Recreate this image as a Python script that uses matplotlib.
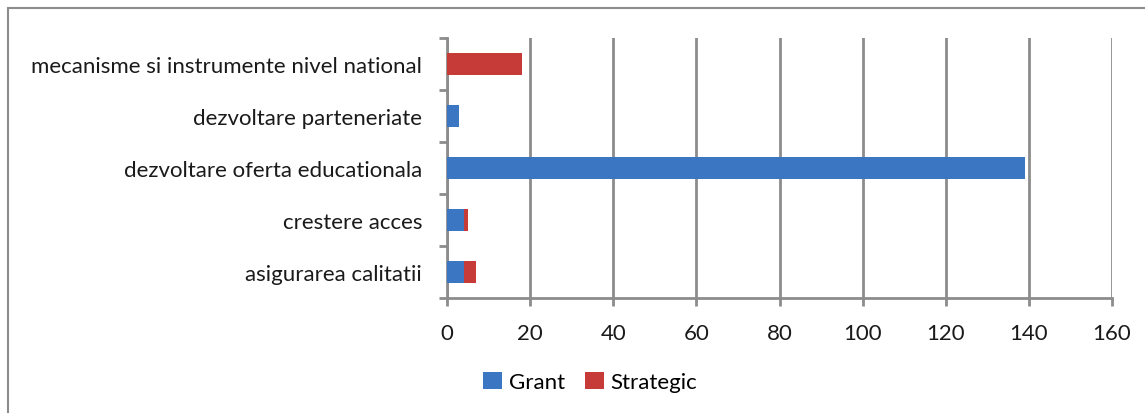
import matplotlib
matplotlib.use("Agg")
import matplotlib.pyplot as plt
from matplotlib.patches import Rectangle
import numpy as np

categories = ["asigurarea calitatii", "crestere acces", "dezvoltare oferta educationala",
              "dezvoltare parteneriate", "mecanisme si instrumente nivel national"]
grant = [4, 4, 139, 3, 0]
strategic = [3, 1, 0, 0, 18]
series_names = ["Grant", "Strategic"]
xticks = [0, 20, 40, 60, 80, 100, 120, 140, 160]

plt.rcParams['font.family'] = ['Lato', 'DejaVu Sans']

fig = plt.figure(figsize=(11.45, 4.14), dpi=100)
ax = fig.add_axes([0.3904, 0.2778, 0.9712 - 0.3904, 0.9058 - 0.2778])

y = np.arange(len(categories))
blue = "#3a76c2"
red = "#c63b38"
h = 0.42
ax.barh(y, grant, height=h, color=blue, label=series_names[0], zorder=3)
ax.barh(y, strategic, left=grant, height=h, color=red, label=series_names[1], zorder=3)

ax.set_xlim(0, 160)
ax.set_ylim(-0.5, len(categories) - 0.5)
ax.set_xticks(xticks)
ax.set_xticklabels([str(t) for t in xticks], fontsize=16, color="#1a1a1a")
ax.set_yticks(y)
ax.set_yticklabels(categories, fontsize=16, color="#1a1a1a")
ax.set_yticks(np.arange(-0.5, len(categories), 1), minor=True)
ax.tick_params(axis='y', which='major', length=0, pad=18)
ax.tick_params(axis='y', which='minor', length=6, width=2, color="#8c8c8c", direction='out')
ax.tick_params(axis='x', length=6, width=2, color="#8c8c8c", direction='out', pad=12)
ax.grid(axis='x', color="#8c8c8c", linewidth=2, zorder=0)
for s in ['top', 'right']:
    ax.spines[s].set_visible(False)
for s in ['left', 'bottom']:
    ax.spines[s].set_color("#8c8c8c")
    ax.spines[s].set_linewidth(2)

leg = fig.legend(loc='center', bbox_to_anchor=(590 / 1145, 1 - 383 / 414), ncol=2,
                 frameon=False, fontsize=16, handlelength=0.85, handleheight=0.85,
                 handletextpad=0.3, columnspacing=0.9)

fig.patches.append(Rectangle((8 / 1145, -0.05), 1 - 8 / 1145 + 0.01, 1.05 - 9 / 414,
                             transform=fig.transFigure, fill=False,
                             edgecolor="#8c8c8c", linewidth=1.5))

fig.savefig("out.png", dpi=100)
